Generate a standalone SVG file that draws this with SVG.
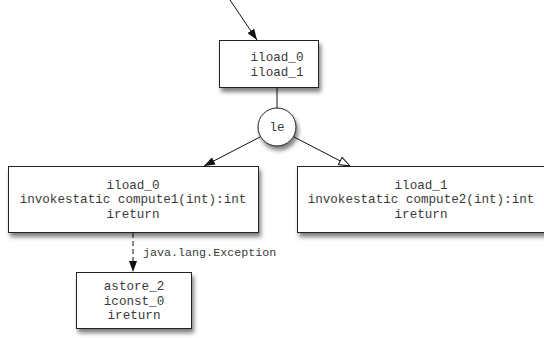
<svg xmlns="http://www.w3.org/2000/svg" width="544" height="338" viewBox="0 0 544 338">
  <defs>
    <filter id="shadow" x="-20%" y="-20%" width="140%" height="160%">
      <feDropShadow dx="2" dy="4" stdDeviation="2.2" flood-color="#000" flood-opacity="0.5"/>
    </filter>
    <marker id="solid" viewBox="0 0 11 8" refX="11" refY="4" markerWidth="11" markerHeight="8" markerUnits="userSpaceOnUse" orient="auto">
      <path d="M0,0 L11,4 L0,8 Z" fill="#111"/>
    </marker>
    <marker id="hollow" viewBox="-1 -1 13 10" refX="11" refY="4" markerWidth="13" markerHeight="10" markerUnits="userSpaceOnUse" orient="auto">
      <path d="M0,0 L11,4 L0,8 Z" fill="#fff" stroke="#111" stroke-width="1"/>
    </marker>
  </defs>
  <style>
    .box { fill: #fff; stroke: #222; stroke-width: 1; filter: url(#shadow); }
    .code { font-family: "Liberation Mono", "Courier New", monospace; font-size: 12.6px; fill: #3a3a3a; text-anchor: middle; }
    .lbl { font-family: "Liberation Mono", "Courier New", monospace; font-size: 11.7px; fill: #3a3a3a; }
    .edge { stroke: #111; stroke-width: 1; fill: none; }
  </style>
  <rect width="544" height="338" fill="#fff"/>

  <g id="connectors">
    <line class="edge" x1="230" y1="0" x2="257" y2="40" marker-end="url(#solid)"/>
    <line class="edge" x1="277" y1="88" x2="277" y2="108"/>
    <line class="edge" x1="260" y1="137" x2="204" y2="166" marker-end="url(#solid)"/>
    <line class="edge" x1="294" y1="137" x2="350" y2="166" marker-end="url(#hollow)"/>
    <line class="edge" x1="133" y1="233" x2="133" y2="272" stroke-dasharray="5,3" marker-end="url(#solid)"/>
    <text class="lbl" x="143" y="256">java.lang.Exception</text>
  </g>

  <g id="entry">
    <rect class="box" x="219.5" y="40.5" width="99" height="47"/>
    <text class="code" x="277" y="61">iload_0</text>
    <text class="code" x="277" y="76">iload_1</text>
  </g>

  <g id="branch-le">
    <circle class="box" cx="277" cy="127" r="19"/>
    <text class="code" x="277" y="131">le</text>
  </g>

  <g id="call-compute1">
    <rect class="box" x="8.5" y="166.5" width="250" height="66"/>
    <text class="code" x="133" y="188.5">iload_0</text>
    <text class="code" x="133" y="203">invokestatic compute1(int):int</text>
    <text class="code" x="133" y="217.5">ireturn</text>
  </g>

  <g id="call-compute2">
    <rect class="box" x="297.5" y="166.5" width="250" height="66"/>
    <text class="code" x="421" y="188.5">iload_1</text>
    <text class="code" x="421" y="203">invokestatic compute2(int):int</text>
    <text class="code" x="421" y="217.5">ireturn</text>
  </g>

  <g id="handler">
    <rect class="box" x="76.5" y="272.5" width="115" height="56"/>
    <text class="code" x="134" y="290">astore_2</text>
    <text class="code" x="134" y="304.5">iconst_0</text>
    <text class="code" x="134" y="319">ireturn</text>
  </g>
</svg>
